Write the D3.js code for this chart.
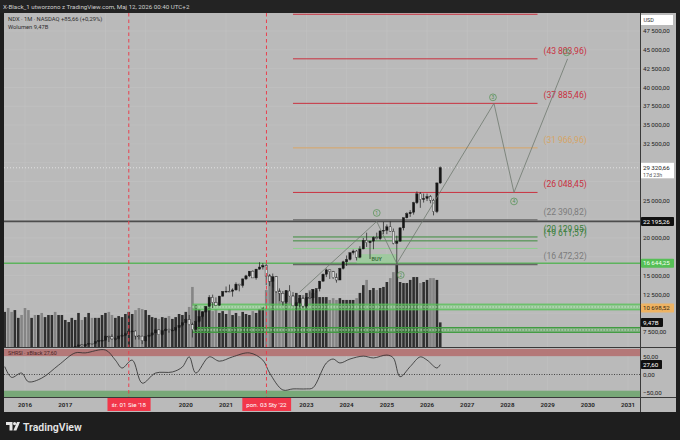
<!DOCTYPE html>
<html>
<head>
<meta charset="utf-8">
<script src="https://cdn.jsdelivr.net/npm/d3@7"></script>
<style>
  body { margin: 0; background: #1e1e1e; }
  svg { display: block; font-family: Roboto, "DejaVu Sans", sans-serif; }
</style>
</head>
<body>
<script>
const w = 680;
const h = 440;

// monthly NDX bars, first bar = July 2015
const firstMonth = "2015-07-01";
const opens = [4397,4588,4274,4181,4648,4665,4594,4279,4202,4483,4341,4524,4418,4730,4771,4875,4801,4810,
  4863,5117,5330,5436,5584,5788,5647,5880,5988,5979,6248,6337,
  6396,6950,6855,6581,6606,6967,7040,7272,7620,7627,6968,6950,
  6330,6906,7100,7378,7781,7128,7671,7848,7692,7750,8083,8403,
  8733,9151,8462,7813,8890,9555,10157,10905,12110,11418,11052,12268,
  12888,12925,12909,13091,13860,13687,14554,14959,15583,14689,15850,16135,
  16320,14930,14237,14839,12855,12643,11504,12948,12272,10971,11406,11951,
  10940,12102,12042,13182,13246,14254,15180,15758,15501,14715,14410,15947,
  16826,17137,18044,18255,17441,18536,19683,19362,19575,20061,19890,20930,
  21012,21478,20884,19278,19571,21340,22679,23218,23415,24680,25860,25100,
  25250,25500,25000,23500,27300];
const highs = [4600,4700,4420,4660,4720,4720,4600,4300,4500,4590,4530,4570,4740,4800,4900,4910,4900,4970,
  5140,5340,5450,5600,5800,5900,5900,6000,6020,6260,6400,6480,
  7020,7000,7190,6800,7000,7280,7450,7660,7700,7700,7100,7000,
  6950,7100,7450,7850,7820,7700,8030,7930,7970,8100,8420,8750,
  9300,9760,8750,9000,9600,10200,10950,12400,12470,12100,12300,12900,
  13550,13800,13300,14100,13900,14600,15100,15600,15700,15900,16770,16660,
  16570,15200,15270,14950,13300,12950,13000,13720,12800,11700,12050,12170,
  12200,12880,13200,13300,14300,15280,15930,15800,15620,15300,16040,16970,
  17670,18040,18460,18400,18900,20000,20700,19600,20200,20700,21000,22130,
  21800,22200,21250,20300,21400,22700,23400,23700,24800,26180,26100,25900,
  25900,25700,25200,27400,29500];
const lows = [4300,3787,4120,4150,4560,4510,4050,3947,4190,4320,4270,4200,4400,4710,4700,4780,4640,4790,
  4850,5110,5300,5350,5550,5600,5620,5750,5870,5970,6180,6240,
  6390,6170,6480,6350,6500,6900,7000,7210,7460,6500,6500,5900,
  6200,6800,6950,7370,7100,7000,7620,7400,7580,7550,8050,8180,
  8700,8400,6770,7500,8700,9300,10100,10900,10680,11050,11000,12200,
  12700,12800,12200,13000,12900,13400,14400,14800,14700,14450,15800,15800,
  13720,13600,13400,12700,11600,11040,11400,12200,10970,10440,10800,10670,
  10700,11960,11700,12720,12900,14200,14800,14550,14550,14060,14400,15800,
  16270,17000,17800,17000,17300,18500,18800,17200,18500,19800,19700,20500,
  20500,20800,19150,16542,19500,21000,22600,22800,23100,24500,24000,24700,
  24900,24600,23000,23300,27200];
const closes = [4588,4274,4181,4648,4665,4594,4279,4202,4483,4341,4524,4418,4730,4771,4875,4801,4810,4863,
  5117,5330,5436,5584,5788,5647,5880,5988,5979,6248,6337,6396,
  6950,6855,6581,6606,6967,7040,7272,7620,7627,6968,6950,6330,
  6906,7100,7378,7781,7128,7671,7848,7692,7750,8083,8403,8733,
  9151,8462,7813,8890,9555,10157,10905,12110,11418,11052,12268,12888,
  12925,12909,13091,13860,13687,14554,14959,15583,14689,15850,16135,16320,
  14930,14237,14839,12855,12643,11504,12948,12272,10971,11406,11951,10940,
  12102,12042,13182,13246,14254,15180,15758,15501,14715,14410,15947,16826,
  17137,18044,18255,17441,18536,19683,19362,19575,20061,19890,20930,21012,
  21478,20884,19278,19571,21340,22679,23218,23415,24680,25860,25100,25250,
  25500,25000,23500,27300,29320.66];
// volume, billions
const volumes = [13.5,15.0,13.5,14.2,11.2,12.3,15.0,14.2,11.2,12.3,12.3,13.1,11.5,12.3,12.3,13.5,12.3,12.3,
  10.4,9.6,11.2,10.4,13.1,10.4,11.5,13.1,11.2,11.2,11.2,12.3,
  13.1,13.5,12.3,11.2,11.9,11.5,12.7,13.5,12.7,14.2,15.0,14.6,
  14.2,12.3,11.5,11.2,10.8,11.5,11.2,11.9,10.8,11.5,12.7,12.3,
  13.5,15.4,23.1,16.2,14.6,13.8,15.4,16.9,13.8,14.6,13.1,13.8,
  12.7,14.6,12.3,13.1,11.9,13.5,12.7,12.3,13.8,13.1,14.6,15.4,
  21.9,27.7,26.9,25.8,21.9,20.8,21.9,19.2,20.0,20.8,20.0,20.0,
  20.8,21.9,20.8,21.9,19.2,19.2,19.2,18.1,18.8,18.1,18.8,18.1,
  18.1,18.1,18.1,18.8,20.8,23.8,25.8,21.9,22.7,21.9,22.7,23.1,
  25.0,26.5,28.8,32.3,25.0,24.6,24.6,25.8,26.9,26.9,24.6,25.0,
  25.8,26.5,26.5,25.8,9.47];

// oscillator readings
const rsiMonths = ["2015-07","2015-09","2015-12","2016-02","2016-06","2016-11","2017-04","2017-07","2018-01",
  "2018-04","2018-06","2018-09","2018-12","2019-04","2019-09","2019-12","2020-02","2020-04","2020-08",
  "2020-11","2021-03","2021-08","2021-12","2022-02","2022-06","2022-09","2023-01","2023-03","2023-07",
  "2023-09","2023-11","2024-02","2024-06","2024-09","2025-01","2025-03","2025-05","2025-08","2025-11",
  "2026-01","2026-04","2026-05"];
const rsiValues = [22,-8,4,-20,-10,26,60,60,68,40,18,40,-24,4,7,21,49,4,49,37,49,60,40,4,-43,-40,-40,-37,
  32,43,32,43,51,46,54,46,-6,22,49,40,18,27.6];

// fibonacci levels
const fibLevels = [49722.46, 43803.96, 37885.46, 31966.96, 26048.45, 22390.82, 20129.95, 19611.57, 18600, 16472.32];
const fibKinds = ["red","red","red","orange","red","gray","green","green","lightgreen","gray"];
const fibStart = "2022-09-01";
const fibEnd = "2028-10-01";

// wave count
const waveDates = ["2022-11-01","2024-10-01","2025-04-01","2027-09-01","2028-03-01","2029-07-01"];
const wavePrices = [12800, 22195, 16600, 37885.46, 26048.45, 43803.96];
const waveNames = ["", "1", "2", "3", "4", "5"];

// price axis tags
const tagPrices = [22195.26, 16644.25, 10698.52];
const lastPrice = 29320.66;

const priceTicks = d3.range(7500, 47501, 2500);
const years = d3.range(2016, 2032);

// layout
const pane = {left: 4, right: 640, top: 13, bottom: 347};
const osc = {top: 348, bottom: 397};
const axisBottom = 412;

const loc = d3.formatLocale({decimal: ",", thousands: "\u2009", grouping: [3], currency: ["", ""]});
const fmt = loc.format(",.2f");

const x = d3.scaleUtc()
  .domain([new Date(Date.UTC(2016,0,1)), new Date(Date.UTC(2031,0,1))])
  .range([25, 628]);
const y = d3.scaleLinear().domain([7500, 47500]).range([332, 31]);
const yVol = d3.scaleLinear().domain([0, 35]).range([pane.bottom, pane.bottom - 91]);
const yRsi = d3.scaleLinear().domain([-50, 50]).range([392.5, 356.5]);

const parse = d3.utcParse("%Y-%m-%d");
const parseM = d3.utcParse("%Y-%m");
const start = parse(firstMonth);
const bars = closes.map((c, i) => ({
  date: d3.utcMonth.offset(start, i),
  o: opens[i], h: highs[i], l: lows[i], c: c, v: volumes[i]
}));

const svg = d3.select("body").append("svg").attr("width", w).attr("height", h);

// header
svg.append("rect").attr("width", w).attr("height", pane.top).attr("fill", "#232323");
svg.append("text").attr("x", 3).attr("y", 8.6)
  .attr("font-size", 6.2).attr("fill", "#cfcfcf")
  .text("X-Black_1 utworzono z TradingView.com, Maj 12, 2026 00:40 UTC+2");

// chart frame
svg.append("rect").attr("x", pane.left).attr("y", pane.top)
  .attr("width", 676 - pane.left).attr("height", axisBottom - pane.top)
  .attr("fill", "#bababa");

const defs = svg.append("defs");
defs.append("clipPath").attr("id", "clipMain").append("rect")
  .attr("x", pane.left).attr("y", pane.top)
  .attr("width", pane.right - pane.left).attr("height", pane.bottom - pane.top);
defs.append("clipPath").attr("id", "clipOsc").append("rect")
  .attr("x", pane.left).attr("y", osc.top)
  .attr("width", pane.right - pane.left).attr("height", osc.bottom - osc.top);

//grid
const grid = svg.append("g").attr("stroke", "#c3c3c3").attr("stroke-width", 0.6);
grid.selectAll(".vg").data(years).enter().append("line")
  .attr("x1", d => x(new Date(Date.UTC(d,0,1)))).attr("x2", d => x(new Date(Date.UTC(d,0,1))))
  .attr("y1", pane.top).attr("y2", osc.bottom);
grid.selectAll(".hg").data(priceTicks).enter().append("line")
  .attr("x1", pane.left).attr("x2", pane.right)
  .attr("y1", d => y(d)).attr("y2", d => y(d));

const main = svg.append("g").attr("clip-path", "url(#clipMain)");

// volume
const bw = 2.6;
main.append("g").selectAll("rect").data(bars).enter().append("rect")
  .attr("x", d => x(d.date) - bw/2)
  .attr("width", bw)
  .attr("y", d => yVol(d.v))
  .attr("height", d => yVol(0) - yVol(d.v))
  .attr("fill", d => d.c >= d.o ? "#2f2f2f" : "#858585");

// zones
function zone(lo, hi, fill, edge) {
  const g = main.append("g");
  const x0 = x(parseM("2020-03"));
  g.append("rect").attr("x", x0).attr("width", pane.right - x0)
    .attr("y", y(hi)).attr("height", y(lo) - y(hi))
    .attr("fill", fill);
  [lo, hi].forEach(v => g.append("line").attr("x1", x0).attr("x2", pane.right)
    .attr("y1", y(v)).attr("y2", y(v)).attr("stroke", edge).attr("stroke-width", 1));
  g.append("line").attr("x1", x0).attr("x2", pane.right)
    .attr("y1", y((lo+hi)/2)).attr("y2", y((lo+hi)/2))
    .attr("stroke", "#dff2df").attr("stroke-width", 0.8).attr("stroke-dasharray", "1.5,1.5");
}
zone(10450, 11200, "rgba(110,205,110,0.55)", "#55c055");
zone(7440, 8100, "rgba(70,160,70,0.55)", "#3f9c3f");

// full width levels
main.append("line").attr("x1", pane.left).attr("x2", pane.right)
  .attr("y1", y(22195.26)).attr("y2", y(22195.26))
  .attr("stroke", "#4d4d4d").attr("stroke-width", 1.6);
main.append("line").attr("x1", pane.left).attr("x2", pane.right)
  .attr("y1", y(16644.25)).attr("y2", y(16644.25))
  .attr("stroke", "#5db35d").attr("stroke-width", 1.6);

// BUY box
const buyX0 = x(parseM("2024-04")), buyX1 = x(parseM("2025-04"));
main.append("rect").attr("x", buyX0).attr("width", buyX1 - buyX0)
  .attr("y", y(17850)).attr("height", y(16644.25) - y(17850))
  .attr("fill", "rgba(150,205,150,0.75)");
main.append("text").attr("x", (buyX0 + buyX1)/2).attr("y", (y(17850) + y(16644.25))/2 + 2)
  .attr("text-anchor", "middle").attr("font-size", 5.5).attr("font-weight", 600)
  .attr("fill", "#3a6e3a").text("BUY");

// fib levels
const fibColor = {red: "#c9313f", orange: "#d9a566", gray: "#666666", green: "#3d8c3d", lightgreen: "#8fce8f"};
const fibText = {red: "#c9313f", orange: "#d6a567", gray: "#7c7c7c", green: "#3b7f3b"};
const fx0 = x(parse(fibStart)), fx1 = x(parse(fibEnd));
main.append("g").selectAll("line").data(fibLevels).enter().append("line")
  .attr("x1", fx0).attr("x2", fx1)
  .attr("y1", d => y(d)).attr("y2", d => y(d))
  .attr("stroke", (d, i) => fibColor[fibKinds[i]])
  .attr("stroke-width", (d, i) => fibKinds[i] == "gray" ? 1.3 : 1);
main.append("g").selectAll("text").data(fibLevels).enter()
  .filter((d, i) => fibKinds[i] != "lightgreen")
  .append("text")
  .attr("x", fx1 + 6).attr("y", d => y(d) - 5)
  .attr("font-size", 8.6)
  .attr("fill", d => fibText[fibKinds[fibLevels.indexOf(d)]])
  .text(d => "(" + fmt(d) + ")");

// current price dotted line
main.append("line").attr("x1", pane.left).attr("x2", pane.right)
  .attr("y1", y(lastPrice)).attr("y2", y(lastPrice))
  .attr("stroke", "#ececec").attr("stroke-width", 0.8).attr("stroke-dasharray", "1,2");

// candles
const cw = 2.3;
const candles = main.append("g").selectAll("g").data(bars).enter().append("g");
candles.append("line")
  .attr("x1", d => x(d.date)).attr("x2", d => x(d.date))
  .attr("y1", d => y(d.h)).attr("y2", d => y(d.l))
  .attr("stroke", "#1c1c1c").attr("stroke-width", 0.7);
candles.append("rect")
  .attr("x", d => x(d.date) - cw/2).attr("width", cw)
  .attr("y", d => y(Math.max(d.o, d.c)))
  .attr("height", d => Math.max(0.8, Math.abs(y(d.o) - y(d.c))))
  .attr("fill", d => d.c >= d.o ? "#161616" : "#dadada")
  .attr("stroke", "#1c1c1c").attr("stroke-width", 0.4);

// wave lines
const wavePts = waveDates.map((d, i) => [x(parse(d)), y(wavePrices[i])]);
main.append("path").attr("d", d3.line()(wavePts))
  .attr("fill", "none").attr("stroke", "#6f786f").attr("stroke-width", 0.8);
const labelOff = [[0,0],[0,-8.5],[4,11.5],[-1,-6],[0,9],[-1,-6.5]];
const waveLab = main.append("g").selectAll("g").data(wavePts).enter()
  .filter((d, i) => waveNames[i] != "")
  .append("g")
  .attr("transform", d => {
    const i = wavePts.indexOf(d);
    return "translate(" + (d[0] + labelOff[i][0]) + "," + (d[1] + labelOff[i][1]) + ")";
  });
waveLab.append("circle").attr("r", 3.4).attr("fill", "none").attr("stroke", "#4f8f4f").attr("stroke-width", 0.7);
waveLab.append("text").attr("y", 1.8).attr("text-anchor", "middle").attr("font-size", 5)
  .attr("fill", "#4f8f4f").text(d => waveNames[wavePts.indexOf(d)]);

// legend
svg.append("text").attr("x", 8).attr("y", 21).attr("font-size", 5.8).attr("fill", "#2e2e2e")
  .text("NDX · 1M · NASDAQ   +85,66 (+0,29%)");
svg.append("text").attr("x", 8).attr("y", 29).attr("font-size", 5.8).attr("fill", "#2e2e2e")
  .text("Wolumen  9,47B");

// oscillator pane
const oscG = svg.append("g").attr("clip-path", "url(#clipOsc)");
oscG.append("rect").attr("x", pane.left).attr("width", pane.right - pane.left)
  .attr("y", yRsi(71)).attr("height", yRsi(51) - yRsi(71)).attr("fill", "#b47878");
oscG.append("rect").attr("x", pane.left).attr("width", pane.right - pane.left)
  .attr("y", yRsi(-45)).attr("height", yRsi(-63) - yRsi(-45)).attr("fill", "#78a878");
oscG.append("line").attr("x1", pane.left).attr("x2", pane.right)
  .attr("y1", yRsi(0)).attr("y2", yRsi(0))
  .attr("stroke", "#2a2a2a").attr("stroke-width", 0.8).attr("stroke-dasharray", "1,1.5");
const rsiLine = d3.line()
  .x((d, i) => x(parseM(rsiMonths[i])))
  .y(d => yRsi(d))
  .curve(d3.curveCatmullRom.alpha(0.5));
oscG.append("path").attr("d", rsiLine(rsiValues))
  .attr("fill", "none").attr("stroke", "#2b2b2b").attr("stroke-width", 0.8);
svg.append("text").attr("x", 8).attr("y", 355).attr("font-size", 5.3).attr("fill", "#4a2424")
  .text("SHRSI · xBlack  27,60");

// marker verticals
const markers = [["2018-08-01", "śr. 01 Sie '18"], ["2022-01-03", "pon. 03 Sty '22"]];
markers.forEach(m => {
  const mx = x(parse(m[0]));
  svg.append("line").attr("x1", mx).attr("x2", mx).attr("y1", pane.top).attr("y2", osc.bottom)
    .attr("stroke", "#e8404f").attr("stroke-width", 1).attr("stroke-dasharray", "3.5,3");
});

// separators
svg.append("line").attr("x1", pane.left).attr("x2", 676).attr("y1", 347.5).attr("y2", 347.5)
  .attr("stroke", "#3a3a3a").attr("stroke-width", 1);
svg.append("line").attr("x1", pane.left).attr("x2", 676).attr("y1", osc.bottom + 0.5).attr("y2", osc.bottom + 0.5)
  .attr("stroke", "#3a3a3a").attr("stroke-width", 1);
svg.append("line").attr("x1", pane.right + 0.5).attr("x2", pane.right + 0.5).attr("y1", pane.top).attr("y2", axisBottom)
  .attr("stroke", "#3a3a3a").attr("stroke-width", 1);

// time axis (years covered by the date flags stay hidden, as on the platform)
const markerXs = markers.map(m => x(parse(m[0])));
const yearX = d => x(new Date(Date.UTC(d,0,1)));
svg.append("g").selectAll("text")
  .data(years.filter(d => markerXs.every(mx => Math.abs(yearX(d) - mx) > 34)))
  .enter().append("text")
  .attr("x", yearX).attr("y", 406.5)
  .attr("text-anchor", "middle").attr("font-size", 6.2).attr("font-weight", 700).attr("fill", "#2a2a2a")
  .text(d => d);
markers.forEach(m => {
  const mx = x(parse(m[0]));
  const t = svg.append("text").attr("x", mx).attr("y", 406.6).attr("text-anchor", "middle")
    .attr("font-size", 6.2).attr("fill", "#fff").text(m[1]);
  const bb = t.node().getBBox();
  svg.insert("rect", function() { return t.node(); })
    .attr("x", bb.x - 4).attr("y", 398).attr("width", bb.width + 8).attr("height", 13)
    .attr("fill", "#f2374a");
});

// price axis, ticks under the tags are skipped
const tagYs = tagPrices.map(p => y(p));
const freeTick = t => tagYs.every(ty => Math.abs(y(t) - ty) > 6.5) &&
  !(y(t) > y(lastPrice) - 9 && y(t) < y(lastPrice) + 16);
svg.append("g").selectAll("text").data(priceTicks.filter(freeTick)).enter().append("text")
  .attr("x", 643).attr("y", d => y(d) + 2.2)
  .attr("font-size", 6.2).attr("fill", "#222").text(d => fmt(d));
svg.append("g").selectAll("text").data([50, 0, -50]).enter().append("text")
  .attr("x", 643).attr("y", d => yRsi(d) + 2.2)
  .attr("font-size", 6.2).attr("fill", "#222").text(d => fmt(d));

function tag(py, label, fill, color, width) {
  svg.append("rect").attr("x", 641).attr("y", py - 4.5).attr("width", width).attr("height", 9)
    .attr("fill", fill).attr("rx", 0.8);
  svg.append("text").attr("x", 643).attr("y", py + 2.2).attr("font-size", 6.2)
    .attr("fill", color).text(label);
}
// USD box
svg.append("rect").attr("x", 641).attr("y", 15).attr("width", 32).attr("height", 10).attr("fill", "#ffffff");
svg.append("text").attr("x", 643.5).attr("y", 22).attr("font-size", 5.5).attr("fill", "#333").text("USD");
// last price box
svg.append("rect").attr("x", 641).attr("y", y(lastPrice) - 5).attr("width", 33).attr("height", 15.5).attr("fill", "#ffffff");
svg.append("text").attr("x", 643).attr("y", y(lastPrice) + 2.2).attr("font-size", 6.2).attr("fill", "#222").text(fmt(lastPrice));
svg.append("text").attr("x", 643).attr("y", y(lastPrice) + 9).attr("font-size", 5.3).attr("fill", "#555").text("17d 23h");
tag(tagYs[0], fmt(tagPrices[0]), "#111", "#fff", 33);
tag(tagYs[1], fmt(tagPrices[1]), "#56bf56", "#f4fff4", 33);
tag(tagYs[2], fmt(tagPrices[2]), "#eeb363", "#3a2a10", 33);
tag(yVol(9.47), "9,47B", "#111", "#fff", 22);
tag(yRsi(27.6), "27,60", "#111", "#fff", 21);

// bottom logo
const logo = svg.append("g").attr("fill", "#e6e6e6");
logo.append("path").attr("d", "M6,422 h6.5 v8.5 h-3 v-5.5 h-3.5 z");
logo.append("circle").attr("cx", 14.6).attr("cy", 423.6).attr("r", 1.6);
logo.append("path").attr("d", "M17,422 h3 l-3.6,8.5 h-3 z");
svg.append("text").attr("x", 23).attr("y", 430.5).attr("font-size", 10.5).attr("font-weight", 600)
  .attr("fill", "#e6e6e6").text("TradingView");
</script>
</body>
</html>
